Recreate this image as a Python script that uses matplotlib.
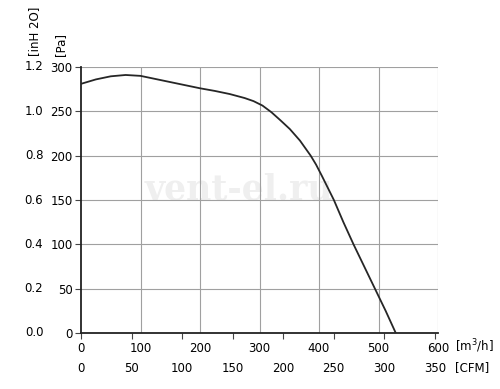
import matplotlib.pyplot as plt
import matplotlib.transforms as mtransforms

# fan curve: airflow [m3/h] vs static pressure [Pa]
flow = [0, 25, 50, 75, 100, 125, 150, 175, 200, 225, 250, 275, 290, 305,
        320, 335, 351, 368, 386, 395, 405, 415, 425, 441, 458, 476, 494,
        512, 529]
pressure = [281, 286, 289.5, 291, 290, 286.5, 283, 279.5, 276, 273, 269.5,
            265, 261.5, 256.5, 249, 240, 230, 217, 200, 190, 177, 163.5,
            150, 125, 100, 75, 50, 25, 0]

# axis labels
flow_ticks = [0, 100, 200, 300, 400, 500, 600]
cfm_ticks = [0, 50, 100, 150, 200, 250, 300, 350]
pa_ticks = [0, 50, 100, 150, 200, 250, 300]
inh2o_labels = ['0.0', '0.2', '0.4', '0.6', '0.8', '1.0', '1.2']

CFM_TO_M3H = 1.699

fig = plt.figure(figsize=(5, 3.89), dpi=100)
ax = fig.add_axes([81 / 500, 1 - 333 / 389, 357 / 500, 266 / 389])

ax.set_xlim(0, 600)
ax.set_ylim(0, 300)

grid_col = '#a0a0a0'
for q in flow_ticks[1:]:
    ax.axvline(q, color=grid_col, lw=0.8, zorder=1)
for p in pa_ticks[1:]:
    ax.axhline(p, color=grid_col, lw=0.8, zorder=1)

ax.plot(flow, pressure, color='#262626', lw=1.3, zorder=3,
        solid_joinstyle='round')

# watermark
ax.text(265, 162, 'vent-el.ru', color='#efefef', fontsize=25, family='serif',
        fontweight='bold', ha='center', va='center', zorder=0)

for s in ['top', 'right']:
    ax.spines[s].set_visible(False)
ax.spines['left'].set_color('#222222')
ax.spines['bottom'].set_color('#222222')
ax.spines['left'].set_linewidth(1.3)
ax.spines['bottom'].set_linewidth(1.3)

# bottom: only CFM tick marks, labels drawn by hand
ax.set_xticks([c * CFM_TO_M3H for c in cfm_ticks])
ax.set_xticklabels([])
ax.tick_params(axis='x', length=4, width=0.8, color='#444444')

ax.set_yticks(pa_ticks)
ax.set_yticklabels([str(p) for p in pa_ticks], fontsize=8.5)
ax.tick_params(axis='y', length=4, width=0.8, color='#444444', pad=2)

fs = 8.5
trans_x = mtransforms.blended_transform_factory(ax.transData, fig.transFigure)
for q in flow_ticks:
    ax.text(q, 1 - 348 / 389, str(q), transform=trans_x, fontsize=fs,
            ha='center', va='center')
for c in cfm_ticks:
    ax.text(c * CFM_TO_M3H, 1 - 368 / 389, str(c), transform=trans_x,
            fontsize=fs, ha='center', va='center')
fig.text(455 / 500, 1 - 346 / 389, '[m$^3$/h]', fontsize=fs, ha='left', va='center')
fig.text(455 / 500, 1 - 368 / 389, '[CFM]', fontsize=fs, ha='left', va='center')

trans_y = mtransforms.blended_transform_factory(fig.transFigure, ax.transData)
for p, lab in zip(pa_ticks, inh2o_labels):
    ax.text(34 / 500, p, lab, transform=trans_y, fontsize=fs,
            ha='center', va='center')

fig.text(35 / 500, 1 - 56 / 389, '[inH 2O]', rotation=90, fontsize=fs,
         ha='center', va='bottom')
fig.text(61 / 500, 1 - 56 / 389, '[Pa]', rotation=90, fontsize=fs,
         ha='center', va='bottom')

fig.savefig('out.png', dpi=100)
